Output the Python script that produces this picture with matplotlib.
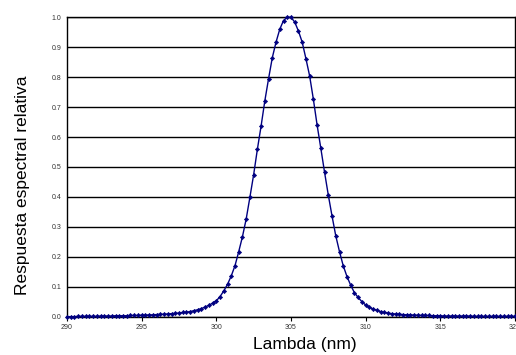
import numpy as np
import matplotlib.pyplot as plt

plt.rcParams['font.family'] = ['Liberation Sans', 'DejaVu Sans']

# wavelength grid (nm), 0.25 nm steps
lambda_nm = np.arange(290, 320.01, 0.25)

# relative spectral response
response = [
    0.000, 0.000, 0.000, 0.001, 0.001, 0.001, 0.001, 0.001,   # 290 - 291.75
    0.001, 0.002, 0.002, 0.002, 0.002, 0.003, 0.003, 0.003,   # 292 - 293.75
    0.003, 0.004, 0.004, 0.004, 0.005, 0.005, 0.006, 0.006,   # 294 - 295.75
    0.007, 0.008, 0.008, 0.009, 0.010, 0.011, 0.012, 0.014,   # 296 - 297.75
    0.015, 0.017, 0.020, 0.023, 0.027, 0.032, 0.038, 0.045,   # 298 - 299.75
    0.053, 0.067, 0.086, 0.108, 0.136, 0.170, 0.217, 0.267,   # 300 - 301.75
    0.326, 0.399, 0.474, 0.559, 0.637, 0.721, 0.795, 0.865,   # 302 - 303.75
    0.917, 0.960, 0.989, 1.000, 1.000, 0.984, 0.954, 0.917,   # 304 - 305.75
    0.862, 0.804, 0.726, 0.640, 0.562, 0.482, 0.406, 0.336,   # 306 - 307.75
    0.270, 0.217, 0.170, 0.134, 0.105, 0.080, 0.064, 0.050,   # 308 - 309.75
    0.039, 0.031, 0.026, 0.021, 0.017, 0.014, 0.012, 0.010,   # 310 - 311.75
    0.009, 0.008, 0.007, 0.006, 0.006, 0.005, 0.005, 0.004,   # 312 - 313.75
    0.004, 0.004, 0.003, 0.003, 0.003, 0.002, 0.002, 0.002,   # 314 - 315.75
    0.002, 0.002, 0.002, 0.002, 0.002, 0.001, 0.001, 0.001,   # 316 - 317.75
    0.001, 0.001, 0.001, 0.001, 0.001, 0.001, 0.001, 0.001,   # 318 - 319.75
    0.001,                                                    # 320
]

x_ticks = [290, 295, 300, 305, 310, 315, 320]
y_ticks = np.arange(0, 1.01, 0.1)

fig = plt.figure(figsize=(5.16, 3.55), dpi=100)
ax = fig.add_axes([0.1298, 0.108, 0.8682, 0.8434])

ax.plot(lambda_nm, response, color='#000080', lw=1.0,
        marker='D', markersize=2.2, markeredgewidth=0.4, clip_on=False, zorder=3)

ax.set_xlim(290, 320)
ax.set_ylim(0, 1.0)
ax.set_xticks(x_ticks, labels=[str(t) for t in x_ticks])
ax.set_yticks(y_ticks, labels=[f'{t:.1f}' for t in y_ticks])
ax.tick_params(axis='both', labelsize=5, labelcolor='#333333', length=3,
               width=0.8, direction='out', pad=2)
ax.tick_params(axis='y', length=0, pad=4)

ax.yaxis.grid(True, color='black', lw=1.0)
ax.set_axisbelow(True)
for s in ax.spines.values():
    s.set_linewidth(1.0)
    s.set_color('black')

ax.set_xlabel('Lambda (nm)', fontsize=12.5, va='center')
ax.set_ylabel('Respuesta espectral relativa', fontsize=12.5, va='center')
ax.xaxis.set_label_coords(0.531, -0.094)
ax.yaxis.set_label_coords(-0.100, 0.44)

fig.savefig('out.png', dpi=100)
